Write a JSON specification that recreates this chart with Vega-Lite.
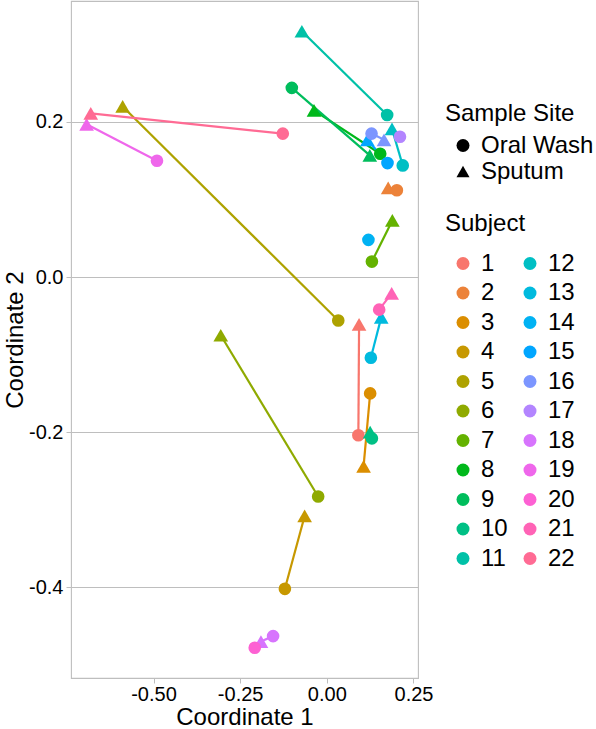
{
  "$schema": "https://vega.github.io/schema/vega-lite/v6.json",
  "width": 347,
  "height": 677,
  "autosize": {"type": "none"},
  "padding": {"left": 71, "top": 1, "right": 178, "bottom": 51},
  "background": "white",
  "config": {
    "font": "Liberation Sans",
    "view": {"stroke": "#BEBEBE", "strokeWidth": 1.1},
    "axis": {
      "labelFontSize": 20,
      "titleFontSize": 24,
      "titleFontWeight": "normal",
      "labelColor": "black",
      "titleColor": "black",
      "tickColor": "#BEBEBE",
      "tickSize": 5,
      "domain": false,
      "labelFlush": false,
      "labelPadding": 3
    },
    "legend": {
      "titleFontSize": 24,
      "labelFontSize": 24,
      "titleFontWeight": "normal",
      "titleColor": "black",
      "labelColor": "black",
      "orient": "none",
      "symbolOffset": 6,
      "labelOffset": 6,
      "symbolSize": 169,
      "symbolStrokeWidth": 0
    }
  },
  "data": {
    "values": [
      {"subject": "1", "site": "Oral Wash", "coord1": 0.091, "coord2": -0.204},
      {"subject": "1", "site": "Sputum", "coord1": 0.093, "coord2": -0.061},
      {"subject": "2", "site": "Sputum", "coord1": 0.177, "coord2": 0.115},
      {"subject": "2", "site": "Oral Wash", "coord1": 0.202, "coord2": 0.112},
      {"subject": "3", "site": "Oral Wash", "coord1": 0.125, "coord2": -0.15},
      {"subject": "3", "site": "Sputum", "coord1": 0.106, "coord2": -0.244},
      {"subject": "4", "site": "Oral Wash", "coord1": -0.121, "coord2": -0.402},
      {"subject": "4", "site": "Sputum", "coord1": -0.064, "coord2": -0.308},
      {"subject": "5", "site": "Sputum", "coord1": -0.589, "coord2": 0.22},
      {"subject": "5", "site": "Oral Wash", "coord1": 0.033, "coord2": -0.056},
      {"subject": "6", "site": "Sputum", "coord1": -0.306, "coord2": -0.075},
      {"subject": "6", "site": "Oral Wash", "coord1": -0.025, "coord2": -0.283},
      {"subject": "7", "site": "Oral Wash", "coord1": 0.13, "coord2": 0.02},
      {"subject": "7", "site": "Sputum", "coord1": 0.189, "coord2": 0.073},
      {"subject": "8", "site": "Sputum", "coord1": -0.037, "coord2": 0.215},
      {"subject": "8", "site": "Oral Wash", "coord1": 0.154, "coord2": 0.159},
      {"subject": "9", "site": "Oral Wash", "coord1": -0.101, "coord2": 0.244},
      {"subject": "9", "site": "Sputum", "coord1": 0.124, "coord2": 0.157},
      {"subject": "10", "site": "Sputum", "coord1": 0.125, "coord2": -0.2},
      {"subject": "10", "site": "Oral Wash", "coord1": 0.13, "coord2": -0.208},
      {"subject": "11", "site": "Sputum", "coord1": -0.072, "coord2": 0.317},
      {"subject": "11", "site": "Oral Wash", "coord1": 0.174, "coord2": 0.209},
      {"subject": "12", "site": "Sputum", "coord1": 0.188, "coord2": 0.191},
      {"subject": "12", "site": "Oral Wash", "coord1": 0.219, "coord2": 0.144},
      {"subject": "13", "site": "Oral Wash", "coord1": 0.127, "coord2": -0.104},
      {"subject": "13", "site": "Sputum", "coord1": 0.157, "coord2": -0.052},
      {"subject": "14", "site": "Oral Wash", "coord1": 0.12, "coord2": 0.048},
      {"subject": "15", "site": "Sputum", "coord1": 0.117, "coord2": 0.177},
      {"subject": "15", "site": "Oral Wash", "coord1": 0.175, "coord2": 0.147},
      {"subject": "16", "site": "Oral Wash", "coord1": 0.129, "coord2": 0.185},
      {"subject": "16", "site": "Sputum", "coord1": 0.165, "coord2": 0.177},
      {"subject": "17", "site": "Oral Wash", "coord1": 0.211, "coord2": 0.181},
      {"subject": "18", "site": "Oral Wash", "coord1": -0.155, "coord2": -0.463},
      {"subject": "18", "site": "Sputum", "coord1": -0.19, "coord2": -0.47},
      {"subject": "19", "site": "Sputum", "coord1": -0.693, "coord2": 0.197},
      {"subject": "19", "site": "Oral Wash", "coord1": -0.49, "coord2": 0.15},
      {"subject": "20", "site": "Oral Wash", "coord1": -0.208, "coord2": -0.478},
      {"subject": "21", "site": "Oral Wash", "coord1": 0.151, "coord2": -0.042},
      {"subject": "21", "site": "Sputum", "coord1": 0.187, "coord2": -0.021},
      {"subject": "22", "site": "Sputum", "coord1": -0.681, "coord2": 0.211},
      {"subject": "22", "site": "Oral Wash", "coord1": -0.127, "coord2": 0.185}
    ]
  },
  "encoding": {
    "x": {
      "field": "coord1",
      "type": "quantitative",
      "title": "Coordinate 1",
      "scale": {"domain": [-0.738, 0.263], "nice": false, "zero": false},
      "axis": {
        "grid": false,
        "values": [-0.5, -0.25, 0, 0.25],
        "labelExpr": "datum.value < 0 ? '-' + format(-datum.value, '.2f') : format(datum.value, '.2f')",
        "labelPadding": 1,
        "titlePadding": 1
      }
    },
    "y": {
      "field": "coord2",
      "type": "quantitative",
      "title": "Coordinate 2",
      "scale": {"domain": [-0.517, 0.356], "nice": false, "zero": false},
      "axis": {
        "grid": true,
        "gridColor": "#BEBEBE",
        "gridWidth": 1.1,
        "values": [-0.4, -0.2, 0, 0.2],
        "labelExpr": "datum.value < 0 ? '-' + format(-datum.value, '.1f') : format(datum.value, '.1f')",
        "titlePadding": 1
      }
    },
    "color": {
      "field": "subject",
      "type": "nominal",
      "title": "Subject",
      "scale": {
        "domain": ["1", "2", "3", "4", "5", "6", "7", "8", "9", "10", "11", "12", "13", "14", "15", "16", "17", "18", "19", "20", "21", "22"],
        "range": ["#F8766D", "#EC8239", "#DB8E00", "#C79800", "#AEA200", "#8FAA00", "#64B200", "#00B81B", "#00BD5C", "#00C085", "#00C1A7", "#00BFC4", "#00BADE", "#00B2F3", "#00A6FF", "#7C96FF", "#B385FF", "#D774FD", "#EF67EB", "#FD61D3", "#FF63B6", "#FF6B94"]
      },
      "legend": {
        "legendX": 374,
        "legendY": 210.5,
        "columns": 2,
        "columnPadding": 4,
        "titlePadding": 16,
        "rowPadding": 5.5,
        "symbolType": "circle",
        "symbolOpacity": 1
      }
    }
  },
  "layer": [
    {
      "mark": {"type": "line", "strokeWidth": 2.2},
      "encoding": {"detail": {"field": "subject"}}
    },
    {
      "mark": {"type": "point", "filled": true, "opacity": 1},
      "encoding": {
        "shape": {
          "field": "site",
          "type": "nominal",
          "title": "Sample Site",
          "scale": {"domain": ["Oral Wash", "Sputum"], "range": ["circle", "triangle-up"]},
          "legend": {
            "legendX": 374,
            "legendY": 100.5,
            "titlePadding": 8,
            "rowPadding": 2,
            "symbolFillColor": "black",
            "symbolStrokeColor": "black"
          }
        },
        "size": {
          "condition": {"test": "datum.site === 'Sputum'", "value": 215},
          "value": 160
        }
      }
    }
  ]
}
